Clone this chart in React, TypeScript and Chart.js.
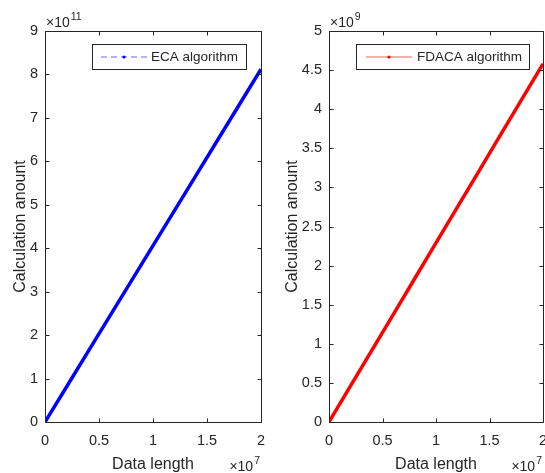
import React, { useEffect, useRef } from "react";
import { Chart, registerables } from "chart.js";

Chart.register(...registerables);

// ---- data ----
const dataLength = [0, 2e6, 4e6, 6e6, 8e6, 1e7, 1.2e7, 1.4e7, 1.6e7, 1.8e7, 2e7];
const ecaValues = [0, 0.812e11, 1.624e11, 2.436e11, 3.248e11, 4.06e11, 4.872e11, 5.684e11, 6.496e11, 7.308e11, 8.12e11];
const fdacaValues = [0, 0.458e9, 0.916e9, 1.374e9, 1.832e9, 2.29e9, 2.748e9, 3.206e9, 3.664e9, 4.122e9, 4.58e9];

const xTicks = [0, 0.5e7, 1e7, 1.5e7, 2e7];
const ecaYTicks = [0, 1e11, 2e11, 3e11, 4e11, 5e11, 6e11, 7e11, 8e11, 9e11];
const fdacaYTicks = [0, 0.5e9, 1e9, 1.5e9, 2e9, 2.5e9, 3e9, 3.5e9, 4e9, 4.5e9, 5e9];

const xExponent = 7;
const ecaExponent = 11;
const fdacaExponent = 9;

const xTitle = "Data length";
const yTitle = "Calculation anount";
const ecaLabel = "ECA algorithm";
const fdacaLabel = "FDACA algorithm";

const FONT = "'Liberation Sans', Arial, Helvetica, sans-serif";
const TXT = "#262626";

const fmt = (v: number) => String(Math.round(v * 100) / 100);

function drawExp(ctx: CanvasRenderingContext2D, x: number, y: number, exp: number, align: "left" | "right") {
  ctx.save();
  ctx.fillStyle = TXT;
  ctx.textBaseline = "alphabetic";
  ctx.textAlign = "left";
  const mainFont = `14px ${FONT}`;
  const supFont = `10.5px ${FONT}`;
  ctx.font = mainFont;
  const w1 = ctx.measureText("\u00d710").width;
  ctx.font = supFont;
  const w2 = ctx.measureText(String(exp)).width;
  let sx = align === "left" ? x : x - (w1 + w2 + 1);
  ctx.font = mainFont;
  ctx.fillText("\u00d710", sx, y);
  ctx.font = supFont;
  ctx.fillText(String(exp), sx + w1 + 1, y - 7);
  ctx.restore();
}

const matlabPlugin = {
  id: "matlabAxes",
  afterDatasetsDraw(chart: any, _args: any, opts: any) {
    const { ctx, chartArea: a, scales } = chart;
    const L = Math.round(a.left) + 0.5;
    const R = Math.round(a.right) + 0.5;
    const T = Math.round(a.top) + 0.5;
    const B = Math.round(a.bottom) + 0.5;
    ctx.save();
    ctx.strokeStyle = TXT;
    ctx.lineWidth = 1;
    ctx.beginPath();
    ctx.rect(L, T, R - L, B - T);
    ctx.stroke();
    const tl = 4;
    ctx.beginPath();
    for (const t of scales.x.ticks) {
      const px = Math.round(scales.x.getPixelForValue(t.value)) + 0.5;
      ctx.moveTo(px, B);
      ctx.lineTo(px, B - tl);
      ctx.moveTo(px, T);
      ctx.lineTo(px, T + tl);
    }
    for (const t of scales.y.ticks) {
      const py = Math.round(scales.y.getPixelForValue(t.value)) + 0.5;
      ctx.moveTo(L, py);
      ctx.lineTo(L + tl, py);
      ctx.moveTo(R, py);
      ctx.lineTo(R - tl, py);
    }
    ctx.stroke();

    // axis titles
    ctx.fillStyle = TXT;
    ctx.font = `16px ${FONT}`;
    ctx.textAlign = "center";
    ctx.textBaseline = "alphabetic";
    ctx.fillText(opts.xTitle, (a.left + a.right) / 2, 469);
    ctx.save();
    ctx.translate(opts.yTitleX, (a.top + a.bottom) / 2);
    ctx.rotate(-Math.PI / 2);
    ctx.fillText(opts.yTitle, 0, 0);
    ctx.restore();

    // exponents
    drawExp(ctx, a.left + 1, 27, opts.yExp, "left");
    drawExp(ctx, a.right - 1, 471, opts.xExp, "right");

    // legend
    const lg = opts.legend;
    ctx.fillStyle = "#ffffff";
    ctx.fillRect(lg.x + 0.5, lg.y + 0.5, lg.w, lg.h);
    ctx.strokeStyle = TXT;
    ctx.strokeRect(lg.x + 0.5, lg.y + 0.5, lg.w, lg.h);
    const ly = lg.y + lg.h / 2 + 0.5;
    ctx.strokeStyle = opts.legendLine;
    ctx.setLineDash(opts.dashed ? [6, 4] : []);
    ctx.beginPath();
    ctx.moveTo(lg.lineX1, ly);
    ctx.lineTo(lg.lineX2, ly);
    ctx.stroke();
    ctx.setLineDash([]);
    ctx.fillStyle = opts.color;
    ctx.beginPath();
    ctx.arc((lg.lineX1 + lg.lineX2) / 2, ly, 1.6, 0, Math.PI * 2);
    ctx.fill();
    ctx.fillStyle = TXT;
    ctx.font = `13.5px ${FONT}`;
    ctx.textAlign = "left";
    ctx.textBaseline = "middle";
    ctx.fillText(opts.label, lg.textX, ly);
    ctx.restore();
  },
};

type SubProps = {
  left: number;
  width: number;
  xs: number[];
  ys: number[];
  yTicks: number[];
  yMax: number;
  yExp: number;
  color: string;
  legendLine: string;
  dashed: boolean;
  label: string;
  yAxisWidth: number;
  padRight: number;
  legend: any;
  yTitleX: number;
};

function SubPlot(p: SubProps) {
  const ref = useRef<HTMLCanvasElement | null>(null);
  useEffect(() => {
    if (!ref.current) return;
    const yDiv = Math.pow(10, p.yExp);
    const xDiv = Math.pow(10, xExponent);
    const chart = new Chart(ref.current, {
      type: "line",
      data: {
        datasets: [
          {
            label: p.label,
            data: p.xs.map((x, i) => ({ x, y: p.ys[i] })),
            borderColor: p.color,
            backgroundColor: p.color,
            borderWidth: 3.5,
            pointRadius: 0,
            fill: false,
          },
        ],
      },
      options: {
        responsive: false,
        animation: false,
        devicePixelRatio: 1,
        layout: { padding: { left: 0, top: 31, right: p.padRight, bottom: 0 } },
        plugins: {
          legend: { display: false },
          tooltip: { enabled: false },
          matlabAxes: {
            xTitle,
            yTitle,
            yTitleX: p.yTitleX,
            xExp: xExponent,
            yExp: p.yExp,
            legend: p.legend,
            legendLine: p.legendLine,
            dashed: p.dashed,
            color: p.color,
            label: p.label,
          },
        } as any,
        scales: {
          x: {
            type: "linear",
            min: 0,
            max: 2e7,
            grid: { display: false, drawTicks: false },
            border: { display: false },
            afterBuildTicks: (s: any) => {
              s.ticks = xTicks.map((v) => ({ value: v }));
            },
            afterFit: (s: any) => {
              s.height = 51;
              s.paddingLeft = 0;
              s.paddingRight = 0;
            },
            ticks: {
              autoSkip: false,
              maxRotation: 0,
              padding: 10,
              color: TXT,
              font: { family: FONT, size: 14.5 },
              callback: (v: any) => fmt(Number(v) / xDiv),
            },
          },
          y: {
            type: "linear",
            min: 0,
            max: p.yMax,
            grid: { display: false, drawTicks: false },
            border: { display: false },
            afterBuildTicks: (s: any) => {
              s.ticks = p.yTicks.map((v) => ({ value: v }));
            },
            afterFit: (s: any) => {
              s.width = p.yAxisWidth;
              s.paddingTop = 0;
              s.paddingBottom = 0;
            },
            ticks: {
              autoSkip: false,
              padding: 7,
              color: TXT,
              font: { family: FONT, size: 14.5 },
              callback: (v: any) => fmt(Number(v) / yDiv),
            },
          },
        },
      } as any,
      plugins: [matlabPlugin as any],
    });
    return () => chart.destroy();
  }, []);
  return (
    <canvas
      ref={ref}
      width={p.width}
      height={473}
      style={{ position: "absolute", left: p.left, top: 0, width: p.width, height: 473 }}
    />
  );
}

export default function App() {
  return (
    <div style={{ position: "fixed", left: 0, top: 0, width: 545, height: 473, background: "#ffffff", overflow: "hidden" }}>
      <SubPlot
        left={0}
        width={272}
        xs={dataLength}
        ys={ecaValues}
        yTicks={ecaYTicks}
        yMax={9e11}
        yExp={ecaExponent}
        color="#0000ff"
        legendLine="#6a6aff"
        dashed={true}
        label={ecaLabel}
        yAxisWidth={45}
        padRight={11}
        yTitleX={25}
        legend={{ x: 92, y: 44, w: 154, h: 25, lineX1: 101, lineX2: 147, textX: 151 }}
      />
      <SubPlot
        left={272}
        width={273}
        xs={dataLength}
        ys={fdacaValues}
        yTicks={fdacaYTicks}
        yMax={5e9}
        yExp={fdacaExponent}
        color="#ff0000"
        legendLine="#ff5a5a"
        dashed={false}
        label={fdacaLabel}
        yAxisWidth={57}
        padRight={2}
        yTitleX={25}
        legend={{ x: 84, y: 44, w: 173, h: 25, lineX1: 94, lineX2: 140, textX: 145 }}
      />
    </div>
  );
}
